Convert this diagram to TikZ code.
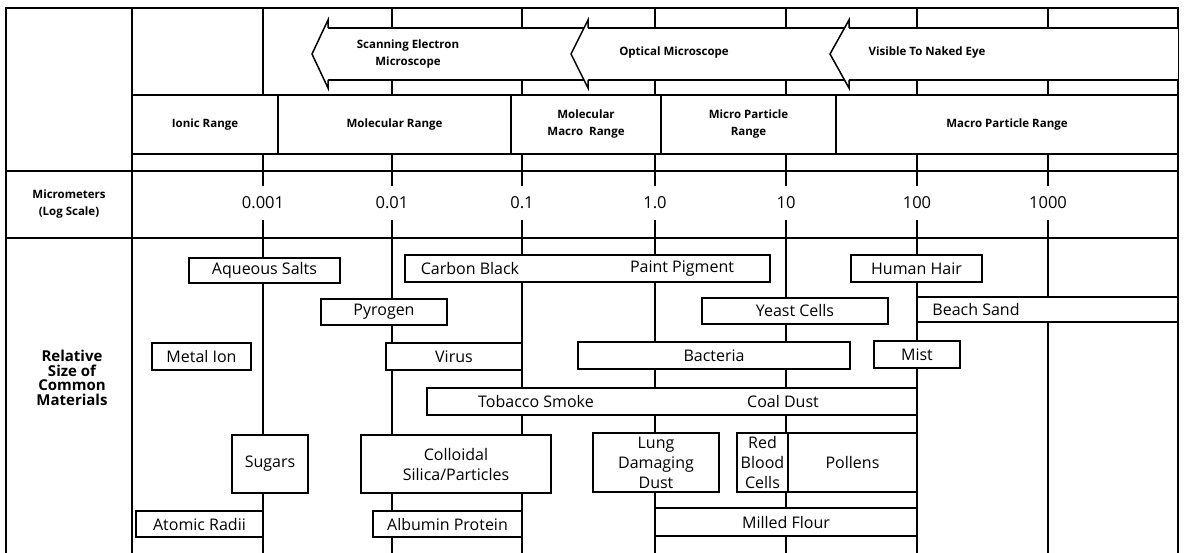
\documentclass[tikz,border=0pt]{standalone}
\usepackage{fontspec}
\setmainfont{Open Sans}
\usepackage{tikz}
\newcommand\matfont{\fontsize{16}{20}\selectfont}
\newcommand\hdrfont{\fontsize{11.5}{17}\selectfont\bfseries}

\begin{document}
\begin{tikzpicture}[x=1pt,y=-1pt,
  gridline/.style={line width=1.5pt},
  cell/.style={draw,fill=white,line width=1.5pt,inner sep=0pt,font=\hdrfont,align=center},
  mat/.style 2 args={draw,fill=white,line width=1.5pt,inner sep=0pt,minimum width=#1pt,minimum height=#2pt,font=\matfont,align=center},
  lbl/.style={inner sep=0pt,font=\matfont},
  decade/.style={fill=white,inner sep=1pt,minimum height=34pt,font=\fontsize{16.5}{20}\selectfont},
  sidelbl/.style={font=\fontsize{15}{14.5}\selectfont\bfseries,align=center}]
  \useasboundingbox (0,0) rectangle (1184,553);

  % Decade lines and frame
  \foreach \xx in {263,392,522,655,786,917,1048}
    \draw[gridline] (\xx,8) -- (\xx,553);
  \draw[gridline] (6,553) -- (6,8) -- (1178,8) -- (1178,553);
  \draw[gridline] (132,8) -- (132,553);
  \draw[gridline] (6,171) -- (1178,171);
  \draw[gridline] (6,238) -- (1178,238);

  % Microscope arrows
  \fill[white] (328,28) rectangle (1178,80);
  \draw[gridline] (328,28) -- (1178,28);
  \draw[gridline] (328,80) -- (1178,80);
  \foreach \tip/\back in {312/328,571/588,830/849}
    \draw[gridline,fill=white] (\back,28) -- (\back,20) -- (\tip,54) -- (\back,88) -- (\back,80);
  \node[font=\hdrfont,align=center] (sem) at (408,54) {Scanning Electron\\Microscope};
  \node[font=\hdrfont] (optical) at (674,53) {Optical Microscope};
  \node[font=\hdrfont] (naked) at (927,53) {Visible To Naked Eye};

  % Range row
  \node[cell,minimum width=146pt,minimum height=59pt] (ionic) at (205,124.5) {Ionic Range};
  \node[cell,minimum width=233pt,minimum height=59pt] (molecular) at (394.5,124.5) {Molecular Range};
  \node[cell,minimum width=150pt,minimum height=59pt] (macromol) at (586,124.5) {Molecular\\Macro~ Range};
  \node[cell,minimum width=175pt,minimum height=59pt] (micro) at (748.5,124.5) {Micro Particle\\Range};
  \node[cell,minimum width=342pt,minimum height=59pt] (macro) at (1007,124.5) {Macro Particle Range};

  % Log scale
  \node[font=\hdrfont,align=center] (scale) at (69,204) {Micrometers\\(Log Scale)};
  \node[decade] (m3) at (263,203) {0.001};
  \node[decade] (m2) at (392,203) {0.01};
  \node[decade] (m1) at (522,203) {0.1};
  \node[decade] (p0) at (655,203) {1.0};
  \node[decade] (p1) at (786,203) {10};
  \node[decade] (p2) at (917,203) {100};
  \node[decade] (p3) at (1048,203) {1000};

  % Common materials
  \node[sidelbl] (relative) at (72,378) {Relative\\Size of\\Common\\Materials};
  \node[mat={151}{25}] (aqueous) at (264.5,270.5) {Aqueous Salts};
  \node[mat={365}{27}] (carbon) at (587.5,268.5) {};
  \node[lbl] (carbonlbl) at (470,268.5) {Carbon Black};
  \node[lbl] (paintlbl) at (682,268.5) {Paint Pigment};
  \node[mat={131}{27}] (hair) at (916.5,268.5) {Human Hair};
  \node[mat={126}{26}] (pyrogen) at (384,312) {Pyrogen};
  \node[mat={186}{26}] (yeast) at (795,311) {Yeast Cells};
  \node[mat={261}{25}] (sand) at (1047.5,309.5) {};
  \node[lbl] (sandlbl) at (976,309.5) {Beach Sand};
  \node[mat={99}{27}] (metal) at (201.5,356.5) {Metal Ion};
  \node[mat={136}{27}] (virus) at (454,356.5) {Virus};
  \node[mat={272}{27}] (bacteria) at (714,355.5) {Bacteria};
  \node[mat={86}{27}] (mist) at (917,354.5) {Mist};
  \node[mat={490}{27}] (tobacco) at (672,401.5) {};
  \node[lbl] (tobaccolbl) at (536,401.5) {Tobacco Smoke};
  \node[lbl] (coallbl) at (783,401.5) {Coal Dust};
  \node[mat={76}{58}] (sugars) at (270,464) {Sugars};
  \node[mat={190}{58}] (colloid) at (456,464) {Colloidal\\Silica/Particles};
  \node[mat={126}{59}] (lung) at (656,462.5) {Lung\\Damaging\\Dust};
  \node[mat={51}{59}] (rbc) at (762.5,462.5) {Red\\Blood\\Cells};
  \node[mat={129}{59}] (pollens) at (852.5,462.5) {Pollens};
  \node[mat={127}{26}] (atomic) at (199.5,524) {Atomic Radii};
  \node[mat={149}{26}] (albumin) at (447.5,524) {Albumin Protein};
  \node[mat={262}{28}] (flour) at (786,522) {Milled Flour};
\end{tikzpicture}
\end{document}
